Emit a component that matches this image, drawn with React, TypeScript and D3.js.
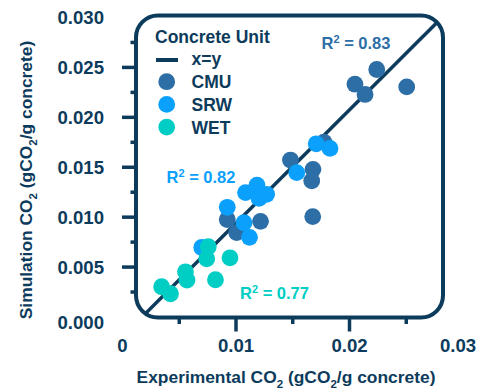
import React from "react";
import * as d3 from "d3";

// Measured CO2 uptake vs simulated, per concrete unit type
const cmuExperimental = [0.00923, 0.01006, 0.01216, 0.0148, 0.01678, 0.01667, 0.01676, 0.01775, 0.0224, 0.02048, 0.02137, 0.02504];
const cmuSimulation = [0.00976, 0.00846, 0.00958, 0.01572, 0.01479, 0.01364, 0.01006, 0.01752, 0.02479, 0.02332, 0.02229, 0.02305];

const srwExperimental = [0.00698, 0.00923, 0.0107, 0.01119, 0.01084, 0.01185, 0.01203, 0.0127, 0.01535, 0.01707, 0.01828];
const srwSimulation = [0.00696, 0.01099, 0.00944, 0.00798, 0.01246, 0.01321, 0.01188, 0.01229, 0.01446, 0.01735, 0.01689];

const wetExperimental = [0.00345, 0.00423, 0.00555, 0.00568, 0.00756, 0.00742, 0.00819, 0.00947];
const wetSimulation = [0.00303, 0.00233, 0.00453, 0.0037, 0.00704, 0.00583, 0.00373, 0.00593];

const unitNames = ["CMU", "SRW", "WET"];
const rSquared = ["0.83", "0.82", "0.77"];

// Reference line endpoints (clipped to the frame)
const refLineX = [0.0, 0.0285];
const refLineY = [-0.00195, 0.0304];

const xTickLabels = ["0", "0.01", "0.02", "0.03"];
const xTickValues = [0, 0.01, 0.02, 0.03];
const yTickLabels = ["0.000", "0.005", "0.010", "0.015", "0.020", "0.025", "0.030"];
const yTickValues = [0, 0.005, 0.01, 0.015, 0.02, 0.025, 0.03];

const W = 479;
const H = 388;
const NAVY = "#0c3b5c";
const COLORS = ["#2d6ea7", "#0aa0fb", "#00cec4"];
const FONT = "'Liberation Sans', Arial, sans-serif";

export default function App() {
  const x = d3.scaleLinear().domain([0, 0.03]).range([122.5, 463]);
  const y = d3.scaleLinear().domain([0, 0.03]).range([317, 17.5]);

  const frame = { x0: 136, y0: 15.5, x1: 443, y1: 317.5, r: 22 };

  const series = [
    { name: unitNames[0], xs: cmuExperimental, ys: cmuSimulation, color: COLORS[0] },
    { name: unitNames[1], xs: srwExperimental, ys: srwSimulation, color: COLORS[1] },
    { name: unitNames[2], xs: wetExperimental, ys: wetSimulation, color: COLORS[2] },
  ];

  const line = d3
    .line<number>()
    .x((_, i) => x(refLineX[i]))
    .y((d) => y(d));

  const minorX = d3.range(1, 6).map((i) => i * 0.005);
  const minorY = d3.range(1, 12).map((i) => i * 0.0025);

  const r = 8.4;
  const titleSize = 17.4;
  const subSize = 11.5;

  const axisTitle = (label: string) => (
    <>
      {label} CO
      <tspan fontSize={subSize} dy={4.5}>2</tspan>
      <tspan dy={-4.5}> (gCO</tspan>
      <tspan fontSize={subSize} dy={4.5}>2</tspan>
      <tspan dy={-4.5}>/g concrete)</tspan>
    </>
  );

  return (
    <svg
      width={W}
      height={H}
      style={{ position: "absolute", left: 0, top: 0, fontFamily: FONT }}
    >
      <defs>
        <clipPath id="frameClip">
          <rect
            x={frame.x0}
            y={frame.y0}
            width={frame.x1 - frame.x0}
            height={frame.y1 - frame.y0}
            rx={frame.r}
          />
        </clipPath>
      </defs>
      <rect width={W} height={H} fill="#fff" />

      {/* y-axis ticks */}
      {minorY.map((v, i) => {
        const major = Math.abs(v / 0.005 - Math.round(v / 0.005)) < 1e-6;
        return (
          <line
            key={"yt" + i}
            x1={major ? 122 : 130.5}
            x2={frame.x0}
            y1={y(v)}
            y2={y(v)}
            stroke={NAVY}
            strokeWidth={3.5}
          />
        );
      })}
      {/* x-axis ticks */}
      {minorX.map((v, i) => {
        const major = Math.abs(v / 0.01 - Math.round(v / 0.01)) < 1e-6;
        return (
          <line
            key={"xt" + i}
            x1={x(v)}
            x2={x(v)}
            y1={frame.y1}
            y2={major ? 331.5 : 324}
            stroke={NAVY}
            strokeWidth={3.5}
          />
        );
      })}

      {/* tick labels */}
      {yTickValues.map((v, i) => (
        <text
          key={"yl" + i}
          x={104}
          y={y(v) + (v === 0 ? 5 : 0)}
          dy="0.36em"
          textAnchor="end"
          fontSize={18.6}
          fontWeight="bold"
          fill={NAVY}
        >
          {yTickLabels[i]}
        </text>
      ))}
      {xTickValues.map((v, i) => (
        <text
          key={"xl" + i}
          x={Math.min(x(v), W - 21)}
          y={352}
          textAnchor="middle"
          fontSize={18.6}
          fontWeight="bold"
          fill={NAVY}
        >
          {xTickLabels[i]}
        </text>
      ))}

      {/* axis titles */}
      <text x={286} y={383} textAnchor="middle" fontSize={titleSize} fontWeight="bold" fill={NAVY}>
        {axisTitle("Experimental")}
      </text>
      <text
        transform="translate(32,180) rotate(-90)"
        textAnchor="middle"
        fontSize={titleSize}
        fontWeight="bold"
        fill={NAVY}
      >
        {axisTitle("Simulation")}
      </text>

      {/* reference line and points */}
      <g clipPath="url(#frameClip)">
        <path d={line(refLineY) ?? ""} stroke={NAVY} strokeWidth={3.5} fill="none" />
        {series.map((s) =>
          s.xs.map((xv, i) => (
            <circle key={s.name + i} cx={x(xv)} cy={y(s.ys[i])} r={r} fill={s.color} />
          ))
        )}
      </g>

      {/* frame */}
      <rect
        x={frame.x0}
        y={frame.y0}
        width={frame.x1 - frame.x0}
        height={frame.y1 - frame.y0}
        rx={frame.r}
        fill="none"
        stroke={NAVY}
        strokeWidth={4}
      />

      {/* legend */}
      <text x={155} y={43} fontSize={17.5} fontWeight="bold" fill={NAVY}>
        Concrete Unit
      </text>
      <line x1={156} x2={178} y1={60} y2={60} stroke={NAVY} strokeWidth={4} />
      <text x={191.5} y={65} fontSize={17.5} fontWeight="bold" fill={NAVY}>
        x=y
      </text>
      {series.map((s, i) => (
        <g key={"lg" + i}>
          <circle cx={166.7} cy={81.7 + i * 22.7} r={r} fill={s.color} />
          <text x={191.5} y={88.3 + i * 22.7} fontSize={17.5} fontWeight="bold" fill={NAVY}>
            {s.name}
          </text>
        </g>
      ))}

      {/* R² annotations */}
      {[
        { x: 321.5, y: 48.5 },
        { x: 166.5, y: 182.7 },
        { x: 240, y: 299.3 },
      ].map((p, i) => (
        <text key={"r2" + i} x={p.x} y={p.y} fontSize={16.5} fontWeight="bold" fill={COLORS[i]}>
          R
          <tspan fontSize={11} dy={-6}>2</tspan>
          <tspan dy={6}> = {rSquared[i]}</tspan>
        </text>
      ))}
    </svg>
  );
}
